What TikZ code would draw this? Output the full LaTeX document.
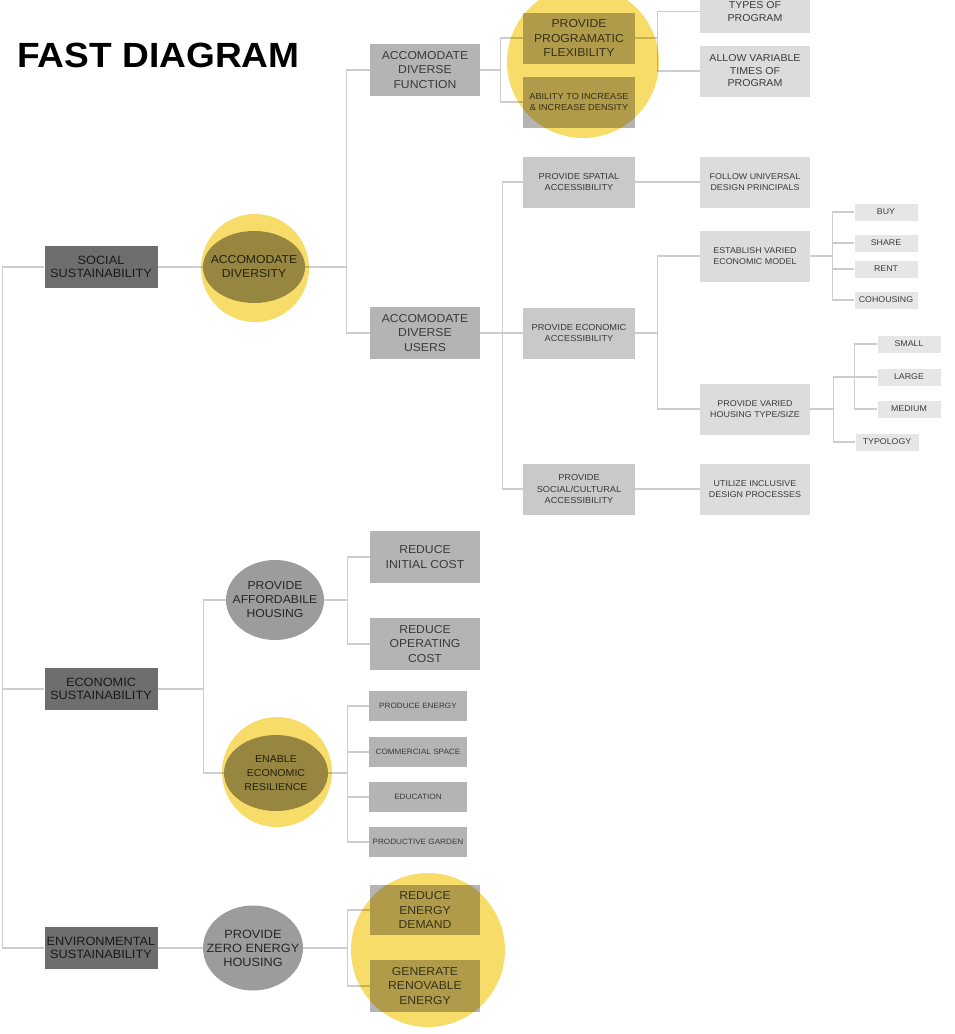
\documentclass[tikz,border=0pt]{standalone}
\usepackage{fontspec}
\setmainfont{Liberation Sans}[FakeStretch=1.06]
\usetikzlibrary{shapes.geometric}

\definecolor{darkbox}{HTML}{6E6E6E}
\definecolor{midbox}{HTML}{B4B4B4}
\definecolor{lightbox}{HTML}{C9C9C9}
\definecolor{palebox}{HTML}{DCDCDC}
\definecolor{leafbox}{HTML}{E6E6E6}
\definecolor{ellgrey}{HTML}{9C9C9C}
\definecolor{haloyel}{HTML}{F8DC6A}
\definecolor{linegrey}{HTML}{CDCDCD}
\definecolor{txt}{HTML}{3A3A3A}

\begin{document}
\begin{tikzpicture}[x=1pt, y=-1pt,
    every node/.style={align=center, text=txt, inner sep=0pt},
    lvlone/.style={rectangle, fill=darkbox, text=black!90,
                   minimum width=113pt, minimum height=42pt,
                   font=\fontsize{12}{13}\selectfont},
    goal/.style={ellipse, fill=ellgrey, text=black!85, inner sep=-20pt,
                 font=\fontsize{11.5}{14}\selectfont},
    bigbox/.style={rectangle, fill=midbox, minimum width=110pt,
                   minimum height=52pt, font=\fontsize{11.5}{14.5}\selectfont},
    subbox/.style={rectangle, fill=lightbox, minimum width=112pt,
                   minimum height=51pt, font=\fontsize{8.7}{11.5}\selectfont},
    palebox/.style={rectangle, fill=palebox, minimum width=110pt,
                    minimum height=51pt, font=\fontsize{8.4}{11.5}\selectfont},
    leaf/.style={rectangle, fill=leafbox, minimum width=63pt,
                 minimum height=17pt, font=\fontsize{8.3}{9}\selectfont},
    flatbox/.style={rectangle, fill=midbox, minimum width=98pt,
                    minimum height=30pt, font=\fontsize{7.7}{9}\selectfont},
    link/.style={draw=linegrey, line width=1.3pt},
    halo/.style={fill=haloyel, blend mode=multiply}]

  \useasboundingbox (0,0) rectangle (955,1034);

  \node[anchor=base west, text=black, font=\fontsize{35}{40}\selectfont\bfseries]
    (title) at (17,67) {FAST DIAGRAM};

  \node[lvlone] (soc) at (101,267) {SOCIAL\\SUSTAINABILITY};
  \node[lvlone] (eco) at (101,689) {ECONOMIC\\SUSTAINABILITY};
  \node[lvlone] (env) at (101,948) {ENVIRONMENTAL\\SUSTAINABILITY};

  \node[goal, minimum width=102pt, minimum height=72pt] (adiv) at (254,267) {ACCOMODATE\\DIVERSITY};
  \node[goal, minimum width=98pt, minimum height=80pt] (aff) at (275,600) {PROVIDE\\AFFORDABILE\\HOUSING};
  \node[goal, minimum width=104pt, minimum height=76pt, font=\fontsize{10}{14}\selectfont] (res) at (276,773) {ENABLE\\ECONOMIC\\RESILIENCE};
  \node[goal, minimum width=100pt, minimum height=85pt, font=\fontsize{12}{14}\selectfont] (zeh) at (253,948) {PROVIDE\\ZERO ENERGY\\HOUSING};

  \node[bigbox] (afun) at (425,70) {ACCOMODATE\\DIVERSE\\FUNCTION};
  \node[bigbox] (ausr) at (425,333) {ACCOMODATE\\DIVERSE\\USERS};
  \node[bigbox] (rinit) at (425,557) {REDUCE\\INITIAL COST};
  \node[bigbox] (rop) at (425,644) {REDUCE\\OPERATING\\COST};
  \node[bigbox, minimum height=50pt] (rend) at (425,910) {REDUCE\\ENERGY\\DEMAND};
  \node[bigbox] (gren) at (425,986) {GENERATE\\RENOVABLE\\ENERGY};

  \node[bigbox, minimum width=112pt, minimum height=51pt] (ppf) at (579,38) {PROVIDE\\PROGRAMATIC\\FLEXIBILITY};
  \node[subbox, fill=midbox] (abil) at (579,102) {ABILITY TO INCREASE\\\& INCREASE DENSITY};

  \node[subbox] (spa) at (579,182) {PROVIDE SPATIAL\\ACCESSIBILITY};
  \node[subbox] (eac) at (579,333) {PROVIDE ECONOMIC\\ACCESSIBILITY};
  \node[subbox] (sca) at (579,489) {PROVIDE\\SOCIAL/CULTURAL\\ACCESSIBILITY};

  \node[palebox, minimum height=43pt, font=\fontsize{10}{12.5}\selectfont] (tprog) at (755,11.5) {TYPES OF\\PROGRAM};
  \node[palebox, font=\fontsize{10}{12.5}\selectfont] (avt) at (755,71) {ALLOW VARIABLE\\TIMES OF\\PROGRAM};
  \node[palebox] (fud) at (755,182) {FOLLOW UNIVERSAL\\DESIGN PRINCIPALS};
  \node[palebox] (evm) at (755,256) {ESTABLISH VARIED\\ECONOMIC MODEL};
  \node[palebox] (hts) at (755,409) {PROVIDE VARIED\\HOUSING TYPE/SIZE};
  \node[palebox] (uid) at (755,489) {UTILIZE INCLUSIVE\\DESIGN PROCESSES};

  \node[leaf] (buy) at (886,212) {BUY};
  \node[leaf] (share) at (886,243) {SHARE};
  \node[leaf] (rent) at (886,269) {RENT};
  \node[leaf] (coh) at (886,300) {COHOUSING};
  \node[leaf] (small) at (909,344) {SMALL};
  \node[leaf] (large) at (909,377) {LARGE};
  \node[leaf] (medium) at (909,409) {MEDIUM};
  \node[leaf] (typ) at (887,442) {TYPOLOGY};

  \node[flatbox] (pen) at (418,706) {PRODUCE ENERGY};
  \node[flatbox] (csp) at (418,752) {COMMERCIAL SPACE};
  \node[flatbox] (edu) at (418,797) {EDUCATION};
  \node[flatbox] (pgd) at (418,842) {PRODUCTIVE GARDEN};

  \foreach \n in {eco,env} \draw[link] (soc.west) -- ++(-42,0) |- (\n.west);
  \draw[link] (soc.east) -- (adiv.west);
  \draw[link] (env.east) -- (zeh.west);
  \foreach \n in {afun,ausr} \draw[link] (adiv.east) -- ++(41,0) |- (\n.west);
  \foreach \n in {ppf,abil} \draw[link] (afun.east) -- ++(20,0) |- (\n.west);
  \foreach \n in {tprog,avt} \draw[link] (ppf.east) -- ++(22,0) |- (\n.west);
  \foreach \n in {spa,eac,sca} \draw[link] (ausr.east) -- ++(22,0) |- (\n.west);
  \draw[link] (spa.east) -- (fud.west);
  \draw[link] (sca.east) -- (uid.west);
  \foreach \n in {evm,hts} \draw[link] (eac.east) -- ++(22,0) |- (\n.west);
  \foreach \n in {buy,share,rent,coh} \draw[link] (evm.east) -- ++(22,0) |- (\n.west);
  \foreach \n in {large,typ} \draw[link] (hts.east) -- ++(23,0) |- (\n.west);
  \foreach \n in {small,medium} \draw[link] (large.west) -- ++(-23,0) |- (\n.west);
  \foreach \n in {aff,res} \draw[link] (eco.east) -- ++(46,0) |- (\n.west);
  \foreach \n in {rinit,rop} \draw[link] (aff.east) -- ++(23,0) |- (\n.west);
  \foreach \n in {pen,csp,edu,pgd} \draw[link] (res.east) -- ++(19,0) |- (\n.west);
  \foreach \n in {rend,gren} \draw[link] (zeh.east) -- ++(44,0) |- (\n.west);

  \fill[halo] (255,268) circle[radius=54];
  \fill[halo] (277,772) circle[radius=55];
  \fill[halo] (583,62) circle[radius=76];
  \fill[halo] (428,950) circle[radius=77];
\end{tikzpicture}
\end{document}
